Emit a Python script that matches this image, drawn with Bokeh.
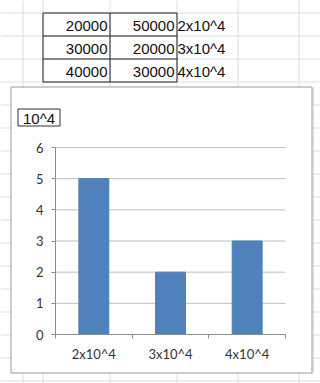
from bokeh.plotting import figure
from bokeh.models import Range1d, LinearAxis, FixedTicker
from bokeh.core.properties import value
from bokeh.embed import file_html
from bokeh.resources import INLINE

# ---- data ----
categories = ["2x10^4", "3x10^4", "4x10^4"]
values = [5, 2, 3]
y_ticks = [0, 1, 2, 3, 4, 5, 6]
table_col1 = [20000, 30000, 40000]
table_col2 = [50000, 20000, 30000]
table_col3 = ["2x10^4", "3x10^4", "4x10^4"]
chart_title = "10^4"

# ---- layout (pixels) ----
W, H = 320, 383
PL, PR, PT, PB = 55, 285, 147, 334          # plot area of the chart
col_edges = [22, 42, 109, 176, 237, 298]   # spreadsheet column lines
row_edges = list(range(12, H, 23))          # spreadsheet row lines
TBL_X = [42, 109, 176]
TBL_Y = [12, 35, 58, 81]

p = figure(width=W, height=H, x_range=Range1d(0, W), y_range=Range1d(H, 0),
           x_axis_type=None, y_axis_type=None, toolbar_location=None,
           output_backend="svg", min_border=0, outline_line_color=None)
p.background_fill_color = "white"
p.border_fill_color = "white"

n = len(categories)
ymax = y_ticks[-1]
xu = n / (PR - PL)
yu = ymax / (PB - PT)
p.extra_x_ranges = {"cat": Range1d(-PL * xu, n + (W - PR) * xu)}
p.extra_y_ranges = {"val": Range1d(-(H - PB) * yu, ymax + PT * yu)}

# spreadsheet grid
grid_c = "#D6DCE8"
p.segment(x0=[c + 0.5 for c in col_edges], x1=[c + 0.5 for c in col_edges],
          y0=[0] * len(col_edges), y1=[H] * len(col_edges), line_color=grid_c, line_width=1)
p.segment(x0=[0] * len(row_edges), x1=[W] * len(row_edges),
          y0=[r + 0.5 for r in row_edges], y1=[r + 0.5 for r in row_edges], line_color=grid_c, line_width=1)

# table borders
tc = "#222222"
p.segment(x0=[x + 0.5 for x in TBL_X], x1=[x + 0.5 for x in TBL_X],
          y0=[TBL_Y[0] + 0.5] * 3, y1=[TBL_Y[-1] + 0.5] * 3, line_color=tc, line_width=1)
p.segment(x0=[TBL_X[0] + 0.5] * 4, x1=[TBL_X[-1] + 0.5] * 4,
          y0=[y + 0.5 for y in TBL_Y], y1=[y + 0.5 for y in TBL_Y], line_color=tc, line_width=1)

# table text
mid = [(a + b) / 2 + 1.5 for a, b in zip(TBL_Y[:-1], TBL_Y[1:])]
tfont = value("Liberation Sans")
p.text(x=[TBL_X[1] - 2] * 3, y=mid, text=[str(v) for v in table_col1], text_align="right",
       text_baseline="middle", text_font=tfont, text_font_size="15px", text_color="#111111")
p.text(x=[TBL_X[2] - 2] * 3, y=mid, text=[str(v) for v in table_col2], text_align="right",
       text_baseline="middle", text_font=tfont, text_font_size="15px", text_color="#111111")
p.text(x=[TBL_X[2] + 1] * 3, y=mid, text=table_col3, text_align="left",
       text_baseline="middle", text_font=tfont, text_font_size="15px", text_color="#111111")

# chart area box
p.quad(left=[10.5], right=[311.5], top=[86.5], bottom=[372.5], fill_color="white",
       line_color="#9A9A9A", line_width=1)
p.segment(x0=[312.5], x1=[312.5], y0=[87], y1=[373], line_color="#C4C4C4", line_width=1)

# title box
p.quad(left=[17.5], right=[59.5], top=[108.5], bottom=[125.5], fill_color="white",
       line_color="#333333", line_width=1)
p.text(x=[38.5], y=[118], text=[chart_title], text_align="center", text_baseline="middle",
       text_font=tfont, text_font_size="15px", text_color="#111111")

# chart gridlines
gl = y_ticks[1:]
p.segment(x0=[0] * len(gl), x1=[n] * len(gl), y0=gl, y1=gl,
          x_range_name="cat", y_range_name="val", line_color="#BEBEBE", line_width=1)

# bars
p.vbar(x=[i + 0.5 for i in range(n)], top=values, bottom=0, width=0.39,
       x_range_name="cat", y_range_name="val",
       fill_color="#4F81BD", line_color="#4A7EBB", line_width=1)

axis_c = "#8C8C8C"
yax = LinearAxis(x_range_name="cat", y_range_name="val", fixed_location=0, bounds=(0, ymax),
                 ticker=FixedTicker(ticks=y_ticks), axis_line_color=axis_c,
                 major_tick_line_color=axis_c, major_tick_in=0, major_tick_out=4,
                 minor_tick_line_color=None, major_label_text_font="Lato",
                 major_label_text_font_size="13px", major_label_standoff=8,
                 major_label_text_color="#333333")
p.add_layout(yax, "left")

xax = LinearAxis(x_range_name="cat", y_range_name="val", fixed_location=0, bounds=(0, n),
                 ticker=FixedTicker(ticks=list(range(n + 1))), axis_line_color=axis_c,
                 major_tick_line_color=axis_c, major_tick_in=0, major_tick_out=4,
                 minor_tick_line_color=None, major_label_text_color=None)
p.add_layout(xax, "below")

xlab = LinearAxis(x_range_name="cat", y_range_name="val", fixed_location=0,
                  ticker=FixedTicker(ticks=[i + 0.5 for i in range(n)]),
                  major_label_overrides={i + 0.5: c for i, c in enumerate(categories)},
                  axis_line_color=None, major_tick_line_color=None, major_tick_in=0,
                  major_tick_out=0, minor_tick_line_color=None,
                  major_label_text_font="Lato", major_label_text_font_size="13px",
                  major_label_standoff=11, major_label_text_color="#333333")
p.add_layout(xlab, "below")

open("out.html", "w").write(file_html(p, INLINE))
